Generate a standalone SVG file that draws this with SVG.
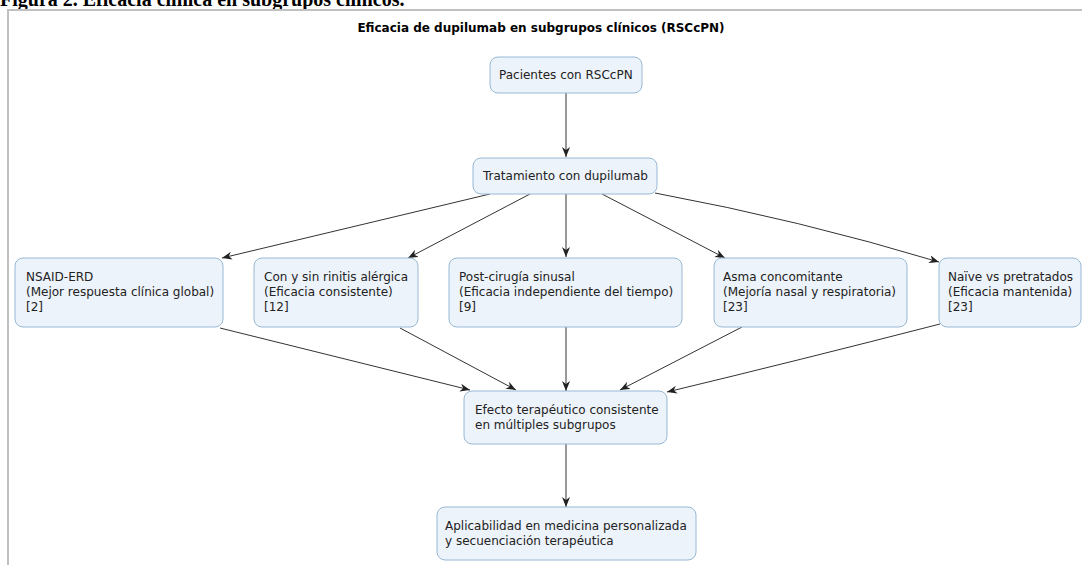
<svg xmlns="http://www.w3.org/2000/svg" width="1082" height="565" viewBox="0 0 1082 565">
<style>
.node rect{fill:#EDF3FA;stroke:#97B8D4;stroke-width:1}
.node text{font-family:"DejaVu Sans",sans-serif;font-size:12px;fill:#222}
.edge{fill:none;stroke:#333;stroke-width:1;marker-end:url(#arr)}
</style>
<defs>
<marker id="arr" markerWidth="10" markerHeight="8" refX="10" refY="4" orient="auto" markerUnits="userSpaceOnUse">
<path d="M0,0 L10,4 L0,8 L3,4 Z" fill="#222"/>
</marker>
</defs>
<rect width="1082" height="565" fill="#fff"/>
<text x="0" y="6" font-family="Liberation Serif,serif" font-weight="bold" font-size="20" fill="#000">Figura 2. Eficacia clínica en subgrupos clínicos.</text>
<path d="M8,565 V10 H1082" fill="none" stroke="#c0c0c0" stroke-width="2"/>
<text x="541" y="32" text-anchor="middle" font-family="DejaVu Sans,sans-serif" font-weight="bold" font-size="12" fill="#000">Eficacia de dupilumab en subgrupos clínicos (RSCcPN)</text>
<g id="connectors">
<path class="edge" d="M566,93 V157"/>
<path class="edge" d="M490,194 L222,258"/>
<path class="edge" d="M530,194 L408,258"/>
<path class="edge" d="M566,194 V257"/>
<path class="edge" d="M602,194 L725,258"/>
<path class="edge" d="M655,193 Q800,220 939,262"/>
<path class="edge" d="M220,328 L470,390"/>
<path class="edge" d="M400,328 L516,390"/>
<path class="edge" d="M566,327 V391"/>
<path class="edge" d="M742,327 L620,390"/>
<path class="edge" d="M940,324 Q800,360 667,392"/>
<path class="edge" d="M566,444 V507"/>
</g>
<g id="n1" class="node"><rect x="490" y="57" width="152" height="36" rx="8"/><text x="499" y="79">Pacientes con RSCcPN</text></g>
<g id="n2" class="node"><rect x="473" y="158" width="184" height="36" rx="8"/><text x="483" y="180">Tratamiento con dupilumab</text></g>
<g id="n3" class="node"><rect x="15" y="258" width="208" height="69" rx="8"/><text x="26" y="281">NSAID-ERD</text><text x="26" y="296">(Mejor respuesta clínica global)</text><text x="26" y="311">[2]</text></g>
<g id="n4" class="node"><rect x="254" y="258" width="164" height="69" rx="8"/><text x="264" y="281">Con y sin rinitis alérgica</text><text x="264" y="296">(Eficacia consistente)</text><text x="264" y="311">[12]</text></g>
<g id="n5" class="node"><rect x="449" y="258" width="233" height="69" rx="8"/><text x="459" y="281">Post-cirugía sinusal</text><text x="459" y="296">(Eficacia independiente del tiempo)</text><text x="459" y="311">[9]</text></g>
<g id="n6" class="node"><rect x="714" y="258" width="193" height="69" rx="8"/><text x="723" y="281">Asma concomitante</text><text x="723" y="296">(Mejoría nasal y respiratoria)</text><text x="723" y="311">[23]</text></g>
<g id="n7" class="node"><rect x="939" y="258" width="142" height="69" rx="8"/><text x="948" y="281">Naïve vs pretratados</text><text x="948" y="296">(Eficacia mantenida)</text><text x="948" y="311">[23]</text></g>
<g id="n8" class="node"><rect x="464" y="391" width="203" height="53" rx="8"/><text x="475" y="414">Efecto terapéutico consistente</text><text x="475" y="429">en múltiples subgrupos</text></g>
<g id="n9" class="node"><rect x="437" y="507" width="259" height="53" rx="8"/><text x="445" y="530">Aplicabilidad en medicina personalizada</text><text x="445" y="545">y secuenciación terapéutica</text></g>
</svg>
